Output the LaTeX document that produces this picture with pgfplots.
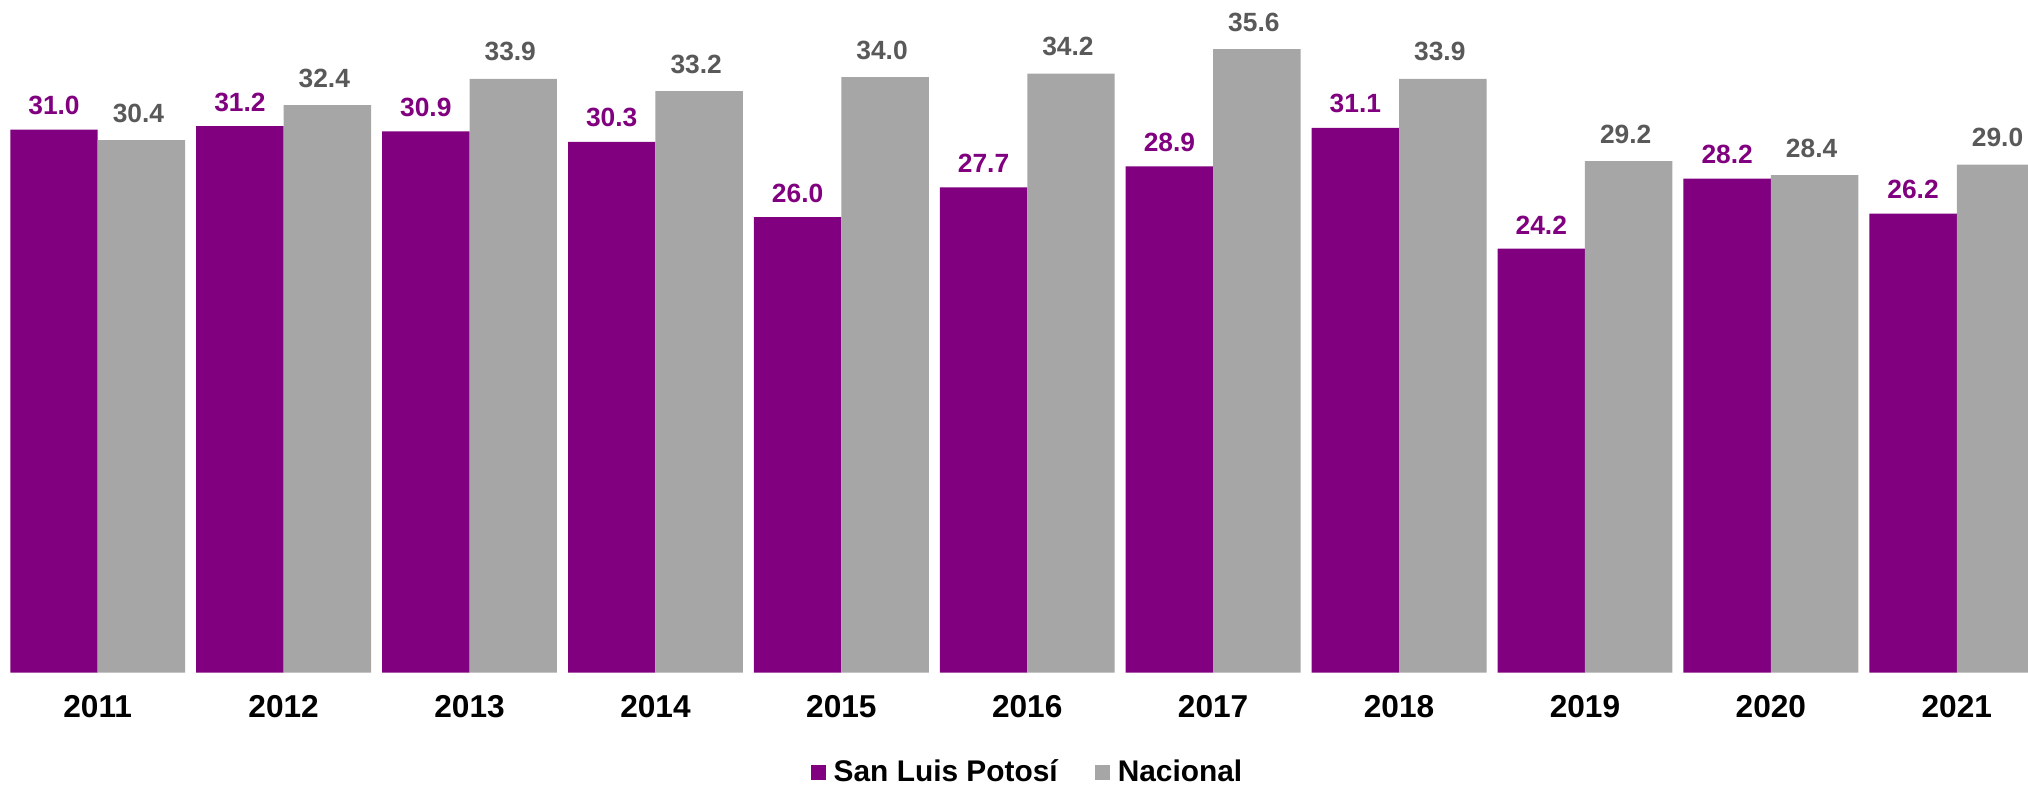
\documentclass[border=0pt]{standalone}
\usepackage{fontspec}
\setmainfont{Liberation Sans}
\usepackage{pgfplots}
\pgfplotsset{compat=1.18}
\definecolor{slp}{RGB}{128,0,128}
\definecolor{nac}{RGB}{166,166,166}
\definecolor{nactxt}{RGB}{89,89,89}
\begin{document}
\begin{tikzpicture}
\begin{axis}[
  at={(0,0)}, anchor=south west,
  scale only axis, width=20.28cm, height=6.726cm,
  xmin=-0.5256, xmax=10.383, ymin=0, ymax=38.4,
  axis line style={draw=none},
  major tick length=0pt,
  ytick=\empty,
  xtick={0,1,2,3,4,5,6,7,8,9,10},
  xticklabels={2011,2012,2013,2014,2015,2016,2017,2018,2019,2020,2021},
  xticklabel style={font=\bfseries\fontsize{9}{10}\selectfont, text=black, anchor=center, yshift=-0.344cm},
  ybar=0pt, bar width=0.4703,
  nodes near coords={\pgfmathprintnumber[fixed,fixed zerofill,precision=1,assume math mode=true]{\pgfplotspointmeta}},
  legend columns=2,
  legend style={at={(0.3994,-0.1495)}, anchor=west, draw=none, fill=none,
    inner sep=0pt, nodes={inner sep=0pt},
    font=\bfseries\fontsize{8.5}{10}\selectfont,
    /tikz/every odd column/.append style={column sep=0.08cm},
    /tikz/every even column/.append style={column sep=0.37cm}},
  legend image code/.code={\fill[#1] (0cm,-0.07cm) rectangle (0.15cm,0.08cm);},
]
\addplot[fill=slp, draw=none,
  nodes near coords style={font=\bfseries\fontsize{7.5}{9}\selectfont, text=slp, inner sep=0pt, anchor=south, yshift=0.14cm}]
  coordinates {(0,31.0) (1,31.2) (2,30.9) (3,30.3) (4,26.0) (5,27.7) (6,28.9) (7,31.1) (8,24.2) (9,28.2) (10,26.2)};
\addplot[fill=nac, draw=none,
  nodes near coords style={font=\bfseries\fontsize{7.5}{9}\selectfont, text=nactxt, inner sep=0pt, anchor=south, yshift=0.17cm, xshift=-0.03cm}]
  coordinates {(0,30.4) (1,32.4) (2,33.9) (3,33.2) (4,34.0) (5,34.2) (6,35.6) (7,33.9) (8,29.2) (9,28.4) (10,29.0)};
\legend{San Luis Potosí, Nacional}
\end{axis}
\pgfresetboundingbox
\path[use as bounding box] (0,-1.124) rectangle (20.28,6.726);
\end{tikzpicture}
\end{document}
